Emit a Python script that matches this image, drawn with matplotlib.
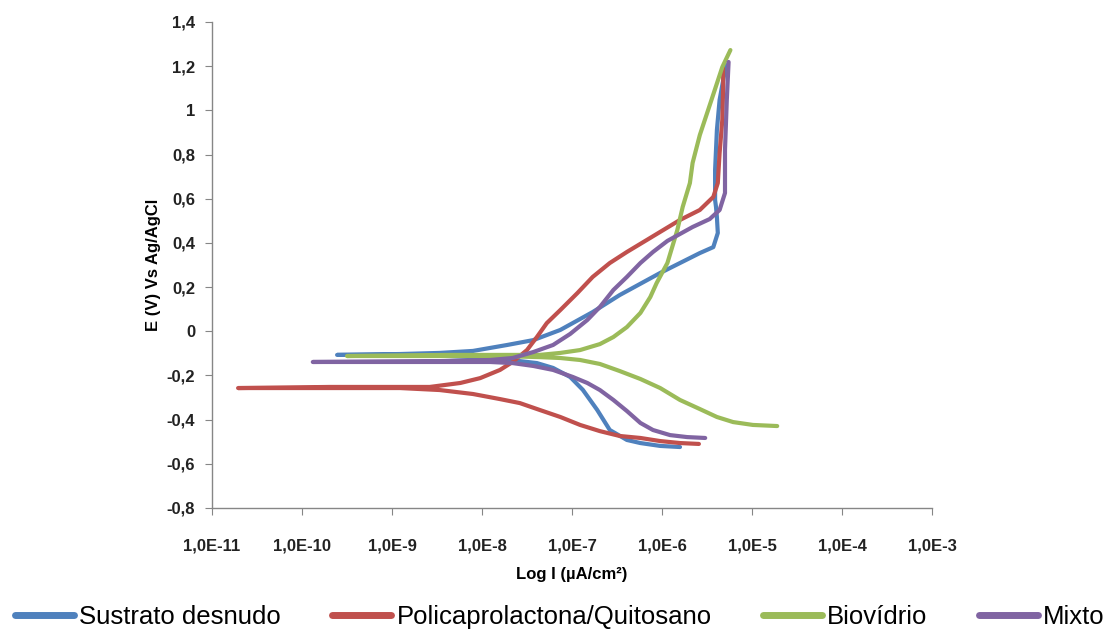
#!/usr/bin/env python3

import matplotlib
matplotlib.use("Agg")
import matplotlib.pyplot as plt
import numpy as np

plt.rcParams['font.family'] = ['Liberation Sans', 'DejaVu Sans']

# log10 of current density (uA/cm2) and potential E (V vs Ag/AgCl),
# each curve read from cathodic end -> corrosion spike -> anodic end
sustrato_logi = [-5.80, -6.02, -6.24, -6.39, -6.58, -6.72, -6.88, -7.02, -7.21, -7.39, -7.58,
                 -7.91, -8.36, -8.91, -9.61,
                 -8.91, -8.47, -8.10, -7.72, -7.43, -7.13, -6.77, -6.47, -6.02, -5.80, -5.58,
                 -5.43, -5.38, -5.39, -5.40, -5.41, -5.41, -5.39, -5.36, -5.32, -5.29]
sustrato_e = [-0.524, -0.519, -0.506, -0.492, -0.447, -0.356, -0.265, -0.207, -0.166, -0.144, -0.135,
              -0.121, -0.112, -0.107, -0.107,
              -0.103, -0.098, -0.089, -0.062, -0.040, 0.006, 0.087, 0.164, 0.264, 0.309, 0.354,
              0.381, 0.445, 0.517, 0.563, 0.594, 0.730, 0.911, 1.047, 1.137, 1.205]

pcl_logi = [-5.59, -5.80, -6.02, -6.24, -6.47, -6.69, -6.91, -7.13, -7.36, -7.58, -7.80, -8.10,
            -8.47, -8.91, -9.69, -10.71,
            -9.69, -8.58, -8.24, -8.02, -7.80, -7.66, -7.50, -7.39, -7.28, -7.13, -6.94, -6.77,
            -6.58, -6.39, -6.17, -5.80, -5.58, -5.43, -5.38, -5.36, -5.33, -5.32, -5.32]
pcl_e = [-0.510, -0.506, -0.497, -0.483, -0.474, -0.452, -0.424, -0.388, -0.356, -0.325, -0.307, -0.284,
         -0.266, -0.257, -0.257, -0.257,
         -0.252, -0.252, -0.234, -0.212, -0.175, -0.139, -0.085, -0.026, 0.037, 0.096, 0.173, 0.246,
         0.309, 0.359, 0.413, 0.504, 0.549, 0.608, 0.671, 0.807, 0.956, 1.106, 1.192]

bio_logi = [-4.72, -4.99, -5.21, -5.39, -5.58, -5.80, -6.02, -6.24, -6.47, -6.69, -6.91, -7.13,
            -7.36, -7.80, -8.36, -9.50,
            -8.36, -7.36, -7.13, -6.91, -6.69, -6.54, -6.39, -6.24, -6.13, -6.06, -5.94, -5.83,
            -5.77, -5.69, -5.66, -5.58, -5.44, -5.33, -5.24]
bio_e = [-0.429, -0.424, -0.411, -0.388, -0.352, -0.311, -0.257, -0.216, -0.180, -0.148, -0.130, -0.121,
         -0.117, -0.112, -0.112, -0.112,
         -0.107, -0.107, -0.098, -0.085, -0.058, -0.026, 0.019, 0.083, 0.155, 0.218, 0.309, 0.458,
         0.563, 0.671, 0.762, 0.888, 1.060, 1.196, 1.273]

mixto_logi = [-5.52, -5.72, -5.91, -6.10, -6.24, -6.39, -6.54, -6.69, -6.83, -6.99, -7.21, -7.43,
              -7.66, -7.91, -8.47, -9.88,
              -8.47, -7.91, -7.66, -7.43, -7.21, -7.02, -6.83, -6.69, -6.54, -6.39, -6.24, -6.10,
              -5.94, -5.66, -5.47, -5.36, -5.30, -5.30, -5.28, -5.26]
mixto_e = [-0.483, -0.479, -0.470, -0.447, -0.415, -0.361, -0.311, -0.266, -0.234, -0.207, -0.175, -0.157,
           -0.144, -0.139, -0.139, -0.139,
           -0.135, -0.130, -0.121, -0.094, -0.062, -0.012, 0.051, 0.110, 0.187, 0.246, 0.309, 0.359,
           0.409, 0.472, 0.508, 0.549, 0.626, 0.821, 1.047, 1.219]

series_names = ["Sustrato desnudo", "Policaprolactona/Quitosano", "Biovídrio", "Mixto"]
colors = ["#4F81BD", "#C0504D", "#9BBB59", "#8064A2"]

x_ticks = [1e-11, 1e-10, 1e-9, 1e-8, 1e-7, 1e-6, 1e-5, 1e-4, 1e-3]
x_tick_labels = ["1,0E-11", "1,0E-10", "1,0E-9", "1,0E-8", "1,0E-7", "1,0E-6", "1,0E-5", "1,0E-4", "1,0E-3"]
y_ticks = [-0.8, -0.6, -0.4, -0.2, 0, 0.2, 0.4, 0.6, 0.8, 1, 1.2, 1.4]
y_tick_labels = ["-0,8", "-0,6", "-0,4", "-0,2", "0", "0,2", "0,4", "0,6", "0,8", "1", "1,2", "1,4"]

fig = plt.figure(figsize=(11.2, 6.32), dpi=100)
ax = fig.add_axes([212 / 1120, 1 - 508 / 632, 720 / 1120, 486 / 632])

curves = [(sustrato_logi, sustrato_e), (pcl_logi, pcl_e), (bio_logi, bio_e), (mixto_logi, mixto_e)]
for (logi, e), name, c in zip(curves, series_names, colors):
    ax.plot(10 ** np.array(logi), e, color=c, lw=3, label=name,
            solid_capstyle='round', solid_joinstyle='round')

ax.set_xscale("log")
ax.set_xlim(1e-11, 1e-3)
ax.set_ylim(-0.8, 1.4)
ax.set_xticks(x_ticks, x_tick_labels)
ax.xaxis.set_minor_locator(matplotlib.ticker.NullLocator())
ax.set_yticks(y_ticks, y_tick_labels)

axis_gray = "#868686"
for side in ["top", "right"]:
    ax.spines[side].set_visible(False)
for side in ["left", "bottom"]:
    ax.spines[side].set_color(axis_gray)
    ax.spines[side].set_linewidth(1)
ax.tick_params(axis="x", direction="out", length=5, color=axis_gray, pad=17,
               labelsize=12, labelcolor="#222222")
ax.tick_params(axis="y", direction="out", length=5, color=axis_gray, pad=7,
               labelsize=12, labelcolor="#222222")
for lbl in ax.get_xticklabels() + ax.get_yticklabels():
    lbl.set_fontweight("bold")

ax.set_xlabel("Log I (µA/cm²)", fontsize=12, fontweight="bold", labelpad=10)
ax.set_ylabel("E (V) Vs Ag/AgCl", fontsize=12, fontweight="bold", labelpad=4)

fig.legend(loc="lower center", bbox_to_anchor=(0.5, -0.02), ncol=4, frameon=False,
           fontsize=18.5, handlelength=2.3, handletextpad=0.2, columnspacing=2.0,
           borderpad=0.1)
for line in fig.legends[0].get_lines():
    line.set_linewidth(5)

fig.savefig("out.png", dpi=100)
